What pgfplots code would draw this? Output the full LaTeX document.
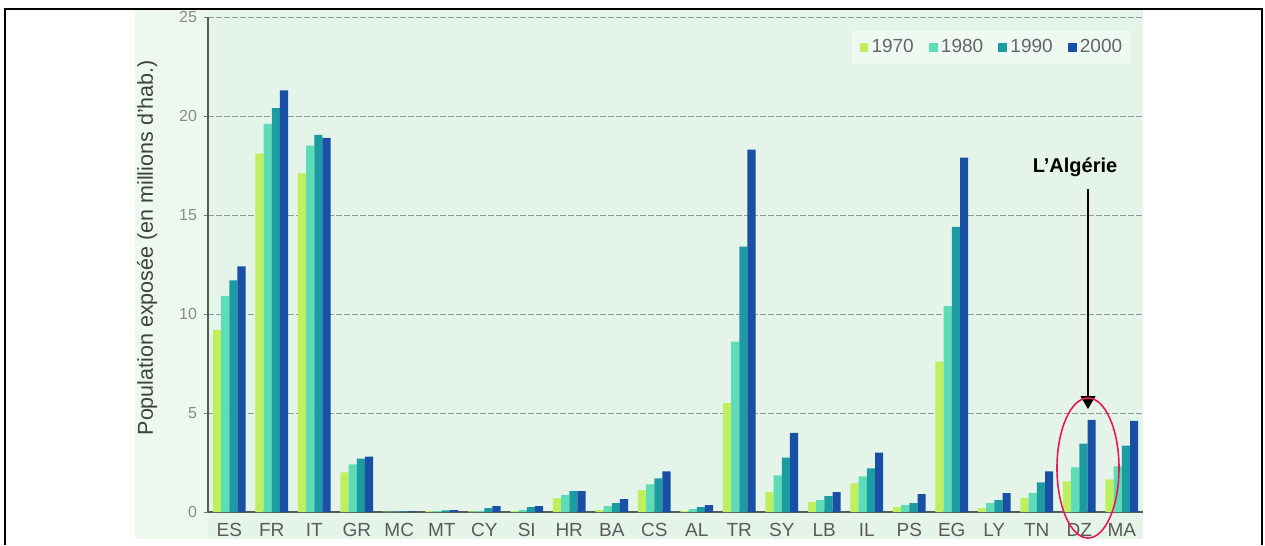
\documentclass[border=0pt]{standalone}
\usepackage{pgfplots}
\pgfplotsset{compat=1.18}
\usepackage{pgfplotstable}
\usepackage{fontspec}
\setmainfont{Liberation Sans}
\usetikzlibrary{arrows.meta}
\definecolor{bgmint}{HTML}{E4F4E9}
\definecolor{bgleft}{HTML}{EDF9EE}
\definecolor{legbg}{HTML}{EEF9F1}
\definecolor{cA}{HTML}{BDF05C}
\definecolor{cB}{HTML}{5EDCB8}
\definecolor{cC}{HTML}{1C9CA2}
\definecolor{cD}{HTML}{1A4FA6}
\definecolor{ticktxt}{HTML}{5A5A5A}
\definecolor{ytxt}{HTML}{8A8A8A}
\definecolor{gridc}{HTML}{8C9A92}
\definecolor{ellc}{HTML}{E8185A}

\pgfplotstableread{
idx name y70 y80 y90 y00
0 ES 9.2 10.9 11.7 12.4
1 FR 18.1 19.6 20.4 21.3
2 IT 17.1 18.5 19.05 18.9
3 GR 2.0 2.4 2.7 2.8
4 MC 0.02 0.02 0.03 0.03
5 MT 0.04 0.05 0.08 0.1
6 CY 0.03 0.06 0.2 0.3
7 SI 0.05 0.1 0.25 0.3
8 HR 0.7 0.85 1.05 1.05
9 BA 0.1 0.3 0.45 0.65
10 CS 1.1 1.4 1.7 2.05
11 AL 0.05 0.15 0.25 0.35
12 TR 5.5 8.6 13.4 18.3
13 SY 1.0 1.85 2.75 4.0
14 LB 0.5 0.6 0.8 1.0
15 IL 1.45 1.8 2.2 3.0
16 PS 0.25 0.35 0.45 0.9
17 EG 7.6 10.4 14.4 17.9
18 LY 0.2 0.45 0.6 0.95
19 TN 0.7 0.95 1.5 2.05
20 DZ 1.55 2.25 3.45 4.65
21 MA 1.65 2.3 3.35 4.6
}\data

\begin{document}
\begin{tikzpicture}
\begin{scope}[x=0.5pt,y=-0.5pt]
\useasboundingbox (0,0) rectangle (1265,539);
\fill[bgleft] (135,10) rectangle (208,539);
\fill[bgmint] (208,10) rectangle (1143,539);
\end{scope}
\begin{axis}[
  at={(104pt,-256pt)}, anchor=south west,
  scale only axis, width=467.5pt, height=247.5pt,
  xmin=-0.5, xmax=21.5, ymin=0, ymax=25,
  ybar=0pt, bar width=0.194,
  axis x line*=bottom, axis y line*=left,
  axis line style={draw=black!65, line width=0.6pt},
  xtick=data,
  xticklabels={ES,FR,IT,GR,MC,MT,CY,SI,HR,BA,CS,AL,TR,SY,LB,IL,PS,EG,LY,TN,DZ,MA},
  xtick style={draw=none},
  xticklabel style={font=\fontsize{9.5}{11}\selectfont, text=ticktxt, yshift=0pt},
  ytick={0,5,10,15,20,25},
  yticklabel style={font=\fontsize{8}{9}\selectfont, text=ytxt},
  /pgf/number format/assume math mode=true,
  ytick style={draw=black!55, line width=0.4pt},
  tick align=outside, major tick length=2pt,
  ymajorgrids,
  grid style={gridc, dash pattern=on 3pt off 1pt, line width=0.4pt},
  ylabel={Population exposée (en millions d'hab.)},
  ylabel style={at={(axis description cs:-0.065,0.534)}, anchor=center, font=\fontsize{10.75}{12}\selectfont, text=black!75},
  legend columns=4,
  legend style={at={(rel axis cs:0.988,0.972)}, anchor=north east, draw=none, fill=legbg,
    font=\fontsize{9.5}{11}\selectfont, text=black!60, inner xsep=4pt, inner ysep=3pt,
    nodes={inner xsep=0.6pt, inner ysep=1pt}, column sep=1pt},
  legend image code/.code={\fill[#1] (0pt,-2.1pt) rectangle (4.4pt,2.3pt);},
]
\addplot[fill=cA, draw=none] table[x=idx, y=y70] {\data};
\addplot[fill=cB, draw=none] table[x=idx, y=y80] {\data};
\addplot[fill=cC, draw=none] table[x=idx, y=y90] {\data};
\addplot[fill=cD, draw=none] table[x=idx, y=y00] {\data};
\legend{1970\rule{6pt}{0pt},1980\rule{6pt}{0pt},1990\rule{6pt}{0pt},2000}
\end{axis}
\begin{scope}[x=0.5pt,y=-0.5pt]
\draw[black, line width=1pt] (5,545) -- (5,9) -- (1262,9) -- (1262,545);
\node[font=\bfseries\fontsize{10}{12}\selectfont] at (1075,167) {L’Algérie};
\draw[black, line width=0.6pt, -{Triangle[width=7.5pt,length=6.5pt]}] (1088,189) -- (1088,409);
\draw[ellc, line width=0.8pt] (1088,468) ellipse [x radius=31, y radius=70];
\end{scope}
\end{tikzpicture}
\end{document}
